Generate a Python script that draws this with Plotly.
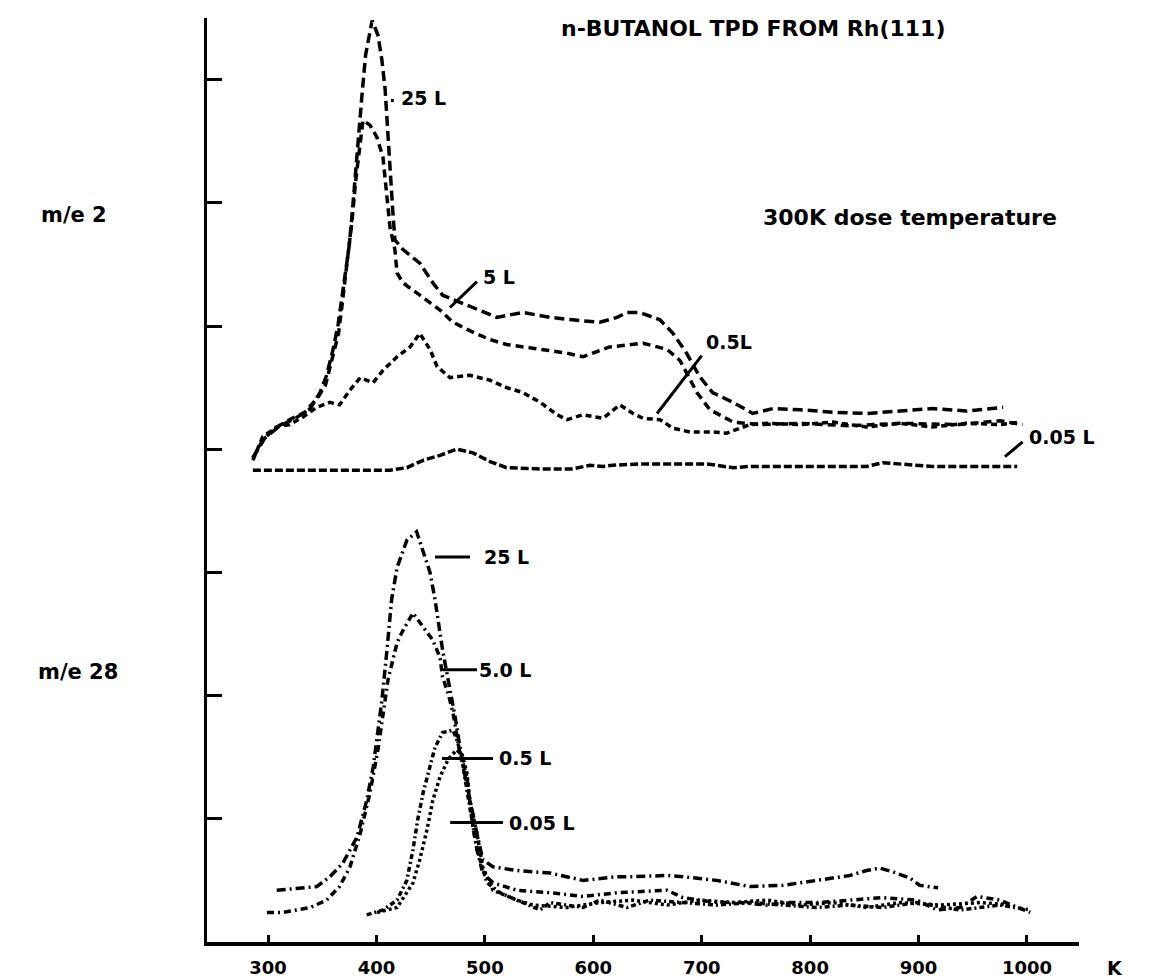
import plotly.graph_objects as go

# ---------------- data: m/e 2 (temperature K, intensity arb. units) ----------------
T_h2_25 = [286, 297, 311, 325, 339, 348, 354, 360, 364.6, 368, 372, 375, 377.5, 380, 383, 386.7, 390, 396,
           401.4, 405, 408, 410.7, 413.4, 415, 417, 424.5, 440, 452, 461, 477, 489, 511, 535, 560, 581, 606,
           622, 631, 643, 661.5, 673.5, 686, 698, 710, 729, 747, 765.7, 790.6, 821, 852, 883, 913, 944, 978]
I_h2_25 = [3.93, 4.09, 4.19, 4.25, 4.33, 4.46, 4.60, 4.81, 5.01, 5.21, 5.45, 5.66, 5.90, 6.19, 6.51, 6.88, 7.20, 7.48,
           7.36, 7.16, 6.92, 6.51, 6.19, 5.94, 5.70, 5.62, 5.51, 5.35, 5.25, 5.19, 5.15, 5.07, 5.11, 5.07, 5.05, 5.03,
           5.07, 5.11, 5.11, 5.05, 4.94, 4.78, 4.59, 4.46, 4.38, 4.29, 4.33, 4.32, 4.30, 4.29, 4.31, 4.33, 4.31, 4.34]

T_h2_5 = [286, 295, 306, 320, 334, 346, 353, 359, 365, 368, 371, 374, 377.5, 381, 385, 387.6, 394, 400.5, 406, 408,
          410, 412.5, 417, 419, 424.5, 440, 458.6, 470.6, 489, 504.7, 520, 544, 575.8, 590.5, 615, 646, 668, 680,
          695.6, 707.6, 729, 753.7, 790.6, 836.8, 883, 937, 975, 996]
I_h2_5 = [3.93, 4.07, 4.17, 4.24, 4.30, 4.42, 4.52, 4.72, 4.94, 5.15, 5.37, 5.58, 5.86, 6.19, 6.51, 6.67, 6.63, 6.53,
          6.37, 6.19, 6.02, 5.80, 5.62, 5.43, 5.35, 5.25, 5.13, 5.03, 4.95, 4.89, 4.85, 4.82, 4.78, 4.75, 4.83, 4.86,
          4.81, 4.72, 4.46, 4.32, 4.22, 4.20, 4.21, 4.19, 4.21, 4.20, 4.23, 4.20]

T_h2_05 = [286, 295, 308, 320, 332, 345, 357, 366, 375.6, 385, 397, 406, 419, 431, 440, 449.4, 456, 468, 486, 504.7,
           520, 535, 551, 566.5, 575.8, 590.5, 609, 624.6, 636.6, 646, 661.5, 673.5, 689, 710, 723, 732.5, 744.5,
           760, 790.6, 821, 852, 883, 913, 944, 975, 994]
I_h2_05 = [3.91, 4.10, 4.18, 4.20, 4.26, 4.34, 4.38, 4.36, 4.48, 4.58, 4.54, 4.64, 4.75, 4.83, 4.94, 4.81, 4.67, 4.58,
           4.60, 4.56, 4.50, 4.46, 4.38, 4.28, 4.24, 4.28, 4.25, 4.36, 4.29, 4.25, 4.24, 4.17, 4.14, 4.14, 4.13, 4.16,
           4.20, 4.21, 4.20, 4.22, 4.18, 4.21, 4.18, 4.21, 4.20, 4.22]

T_h2_005 = [286, 329.5, 375.6, 412.5, 428, 443, 458.6, 474, 489, 504.7, 520, 551, 581, 597, 609, 618, 643, 705, 729,
            744.5, 760, 790.6, 852, 867, 913, 991]
I_h2_005 = [3.83, 3.83, 3.83, 3.83, 3.85, 3.91, 3.95, 4.00, 3.97, 3.90, 3.85, 3.84, 3.84, 3.87, 3.86, 3.87, 3.88,
            3.88, 3.85, 3.86, 3.86, 3.86, 3.86, 3.89, 3.86, 3.86]

# ---------------- data: m/e 28 ----------------
T_co_25 = [308, 329.5, 345, 357, 369, 382, 391, 397, 401.4, 405, 409.7, 414, 419, 428, 437, 443, 449.4, 454, 457, 461,
           465, 469.7, 472.5, 480, 486, 492.7, 498, 507.5, 529.6, 560, 590.5, 622, 636.6, 668, 682.7, 714, 744.5,
           775, 806, 836.8, 852, 864, 876, 892, 901, 918]
I_co_25 = [0.42, 0.44, 0.45, 0.53, 0.64, 0.85, 1.15, 1.42, 1.70, 1.96, 2.37, 2.78, 3.04, 3.26, 3.33, 3.18, 3.00, 2.78,
           2.59, 2.37, 2.18, 1.96, 1.83, 1.42, 1.15, 0.88, 0.67, 0.61, 0.58, 0.56, 0.50, 0.53, 0.53, 0.54, 0.53, 0.50,
           0.45, 0.46, 0.50, 0.54, 0.58, 0.60, 0.57, 0.52, 0.46, 0.44]

T_co_5 = [299, 314, 339, 354, 366, 375.6, 385, 394, 401.4, 406, 410.7, 419, 424.5, 433.7, 443, 452, 458.6, 461, 466,
          470.6, 477, 483.5, 486, 489, 492.7, 498, 507.5, 529.6, 560, 590.5, 622, 668, 682.7, 714, 735, 760, 778.6,
          806, 836.8, 867, 898.5, 917, 938, 954, 975, 1003]
I_co_5 = [0.24, 0.24, 0.28, 0.34, 0.45, 0.61, 0.88, 1.21, 1.56, 1.86, 2.13, 2.43, 2.53, 2.67, 2.56, 2.45, 2.31, 2.15,
          2.02, 1.86, 1.53, 1.34, 1.15, 0.93, 0.75, 0.56, 0.48, 0.42, 0.40, 0.37, 0.40, 0.42, 0.36, 0.32, 0.32, 0.30,
          0.32, 0.32, 0.34, 0.36, 0.34, 0.26, 0.28, 0.37, 0.34, 0.24]

T_co_05 = [391, 406, 419, 428, 433.7, 438, 443, 449.4, 454, 461, 470.6, 475, 480, 483.5, 488, 492.7, 502, 514, 529.6,
           551, 560, 590.5, 606, 631, 652, 682.7, 714, 744.5, 775, 806, 836.8, 867, 898.5, 938, 975, 1003]
I_co_05 = [0.22, 0.26, 0.34, 0.50, 0.75, 0.99, 1.21, 1.42, 1.58, 1.70, 1.72, 1.62, 1.42, 1.23, 1.01, 0.75, 0.48, 0.40,
           0.34, 0.26, 0.32, 0.28, 0.34, 0.28, 0.34, 0.32, 0.30, 0.32, 0.30, 0.28, 0.30, 0.28, 0.32, 0.26, 0.30, 0.26]

T_co_005 = [400.5, 419, 433.7, 440, 446.6, 452, 458.6, 466, 474, 479, 483.5, 486, 492.7, 498, 507.5, 529.6, 544,
            575.8, 606, 636.6, 668, 698, 729, 760, 790.6, 821, 852, 883, 920, 957, 984]
I_co_005 = [0.24, 0.28, 0.48, 0.67, 0.91, 1.15, 1.34, 1.48, 1.56, 1.52, 1.37, 1.15, 0.88, 0.61, 0.42, 0.34, 0.30,
            0.28, 0.32, 0.34, 0.30, 0.34, 0.32, 0.34, 0.30, 0.32, 0.28, 0.32, 0.30, 0.32, 0.30]

x_ticks = [300, 400, 500, 600, 700, 800, 900, 1000]
y_ticks = [1, 2, 3, 4, 5, 6, 7]

FONT = "DejaVu Sans"
INK = "#000000"

fig = go.Figure()

series = [
    (T_h2_25, I_h2_25, "m/e 2, 25 L", "10px,5px"),
    (T_h2_5, I_h2_5, "m/e 2, 5 L", "8px,5px"),
    (T_h2_05, I_h2_05, "m/e 2, 0.5 L", "6px,4px"),
    (T_h2_005, I_h2_005, "m/e 2, 0.05 L", "8px,3px"),
    (T_co_25, I_co_25, "m/e 28, 25 L", "9px,4px,2px,4px"),
    (T_co_5, I_co_5, "m/e 28, 5.0 L", "7px,4px,2px,4px"),
    (T_co_05, I_co_05, "m/e 28, 0.5 L", "5px,3px,2px,3px"),
    (T_co_005, I_co_005, "m/e 28, 0.05 L", "3px,3px"),
]
for tx, iy, name, dash in series:
    fig.add_trace(go.Scatter(x=tx, y=iy, mode="lines", name=name,
                             line=dict(color=INK, width=3.5, dash=dash),
                             showlegend=False, hoverinfo="skip"))

# leader lines for the curve labels
leaders = [
    (413.4, 6.83, 416.0, 6.83),
    (467.8, 5.15, 492.7, 5.36),
    (658.8, 4.29, 700.0, 4.76),
    (979.7, 3.94, 996.0, 4.06),
    (454.0, 3.125, 486.3, 3.125),
    (461.4, 2.21, 492.7, 2.21),
    (460.5, 1.49, 507.5, 1.49),
    (468.0, 0.97, 516.7, 0.97),
]
for x0, y0, x1, y1 in leaders:
    fig.add_shape(type="line", xref="x", yref="y", x0=x0, y0=y0, x1=x1, y1=y1,
                  line=dict(color=INK, width=3))

labels = [
    ("25 L", 421.7, 6.85),
    ("5 L", 497.0, 5.40),
    ("0.5L", 703.0, 4.87),
    ("0.05 L", 1001.0, 4.10),
    ("25 L", 498.3, 3.125),
    ("5.0 L", 493.7, 2.21),
    ("0.5 L", 512.0, 1.49),
    ("0.05 L", 521.3, 0.97),
]
for txt, x, y in labels:
    fig.add_annotation(x=x, y=y, xref="x", yref="y", text="<b>" + txt + "</b>", showarrow=False,
                       xanchor="left", yanchor="middle", borderpad=0,
                       font=dict(family=FONT, size=19, color=INK))

# texts outside the plotting area
paper_texts = [
    ("<b>n-BUTANOL TPD FROM Rh(111)</b>", 0.405, 0.989, 22),
    ("<b>300K dose temperature</b>", 0.6365, 0.7846, 22),
    ("<b>m/e 2</b>", -0.1915, 0.7868, 21),
    ("<b>m/e 28</b>", -0.195, 0.292, 21),
    ("<b>K</b>", 1.031, -0.028, 19),
]
for txt, x, y, sz in paper_texts:
    fig.add_annotation(x=x, y=y, xref="paper", yref="paper", text=txt, showarrow=False,
                       xanchor="left", yanchor="middle", borderpad=0,
                       font=dict(family=FONT, size=sz, color=INK))

fig.update_layout(
    width=1174, height=979,
    margin=dict(l=207, r=95, t=18, b=37, autoexpand=False),
    paper_bgcolor="white", plot_bgcolor="white",
    showlegend=False,
    xaxis=dict(range=[243.7, 1048.0], tickvals=x_ticks, ticktext=["<b>%d</b>" % v for v in x_ticks],
               showline=True, linecolor=INK, linewidth=4, ticks="inside", ticklen=7, tickwidth=3,
               tickcolor=INK, showgrid=False, zeroline=False, ticklabelstandoff=6, automargin=False,
               tickfont=dict(family=FONT, size=18, color=INK)),
    yaxis=dict(range=[0, 7.5], tickvals=y_ticks, showticklabels=False, automargin=False,
               showline=True, linecolor=INK, linewidth=3, ticks="inside", ticklen=15, tickwidth=3,
               tickcolor=INK, showgrid=False, zeroline=False),
)

fig.write_html("out.html")
